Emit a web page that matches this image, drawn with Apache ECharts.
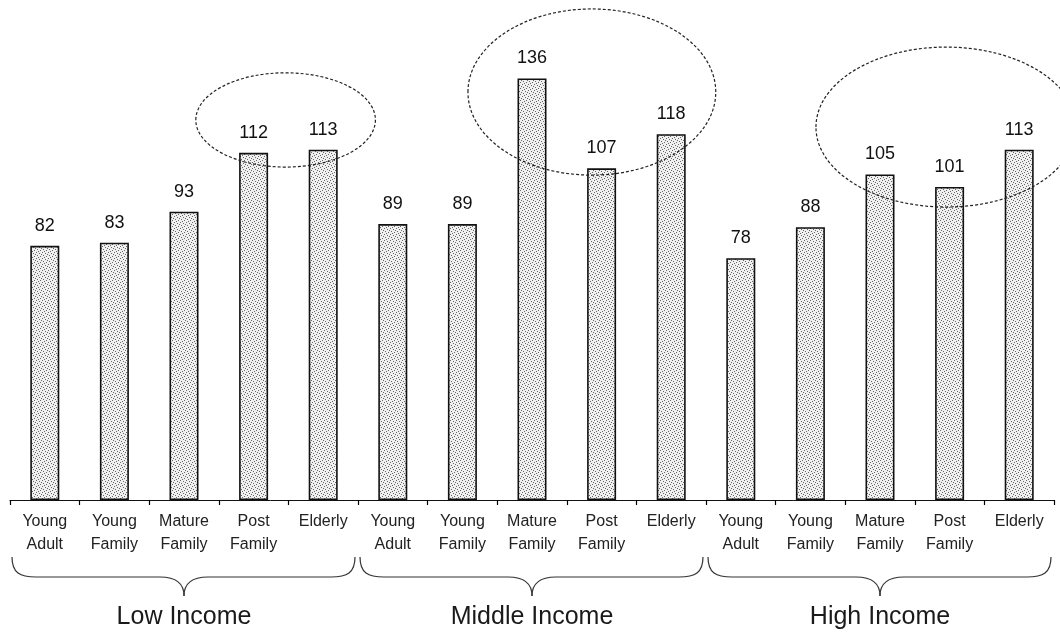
<!DOCTYPE html>
<html>
<head>
<meta charset="utf-8">
<style>
  html, body { margin: 0; padding: 0; background: #fff; }
  #chart { width: 1060px; height: 637px; }
</style>
<script src="https://cdn.jsdelivr.net/npm/echarts@6/dist/echarts.min.js"></script>
</head>
<body>
<div id="chart"></div>
<script>
// Life-stage segments, repeated for each income band
const categories = [
  'Young\nAdult', 'Young\nFamily', 'Mature\nFamily', 'Post\nFamily', 'Elderly',
  'Young\nAdult', 'Young\nFamily', 'Mature\nFamily', 'Post\nFamily', 'Elderly',
  'Young\nAdult', 'Young\nFamily', 'Mature\nFamily', 'Post\nFamily', 'Elderly'
];
const values = [82, 83, 93, 112, 113, 89, 89, 136, 107, 118, 78, 88, 105, 101, 113];

// Income bands: name, first and last category index
const groupNames = ['Low Income', 'Middle Income', 'High Income'];
const groupStart = [0, 5, 10];
const groupEnd = [4, 9, 14];

// Highlight ellipses in data space: centre (category index, value), radii (categories, value units)
const ellipseCenterIdx = [3.46, 7.86, 12.95];
const ellipseCenterVal = [122.6, 131.6, 120.3];
const ellipseRadiusCat = [1.29, 1.78, 1.87];
const ellipseRadiusVal = [15.2, 26.8, 25.8];

const FONT = '"Liberation Sans", Arial, sans-serif';

// Stippled fill used for the bars
function stipple() {
  const c = document.createElement('canvas');
  c.width = 6; c.height = 6;
  const g = c.getContext('2d');
  g.fillStyle = '#f0f0f0';
  g.fillRect(0, 0, 6, 6);
  g.fillStyle = '#666';
  [[0, 0], [3, 1], [1, 3], [4, 4], [2, 5], [5, 2]].forEach(p => g.fillRect(p[0], p[1], 1, 1));
  return c;
}

const chart = echarts.init(document.getElementById('chart'), null, { renderer: 'canvas' });

chart.setOption({
  animation: false,
  backgroundColor: '#fff',
  grid: { left: 10, right: 6, top: 35, bottom: 137, containLabel: false },
  xAxis: {
    type: 'category',
    data: categories,
    boundaryGap: true,
    axisLine: { lineStyle: { color: '#111', width: 1 } },
    axisTick: { show: true, length: 5, alignWithLabel: false, lineStyle: { color: '#000', width: 1.2 } },
    axisLabel: {
      interval: 0,
      margin: 10,
      color: '#222',
      fontFamily: FONT,
      fontSize: 16,
      lineHeight: 23,
      align: 'center',
      verticalAlign: 'top'
    }
  },
  yAxis: {
    type: 'value',
    min: 0,
    max: 150,
    show: false,
    splitLine: { show: false }
  },
  series: [{
    type: 'bar',
    data: values,
    barWidth: 29,
    itemStyle: {
      color: { image: stipple(), repeat: 'repeat' },
      borderColor: '#111',
      borderWidth: 1.6
    },
    label: {
      show: true,
      position: 'top',
      distance: 11,
      color: '#111',
      fontFamily: FONT,
      fontSize: 18
    }
  }]
});

// Annotations placed from the chart's own scales
function xAt(i) {
  const a = chart.convertToPixel({ xAxisIndex: 0 }, 0);
  const b = chart.convertToPixel({ xAxisIndex: 0 }, 1);
  return a + (b - a) * i;
}
function yAt(v) {
  return chart.convertToPixel({ yAxisIndex: 0 }, v);
}

const graphics = [];
const catW = xAt(1) - xAt(0);
const base = yAt(0);
const braceStyle = { fill: null, stroke: '#333', lineWidth: 1.2 };

ellipseCenterIdx.forEach((ci, k) => {
  graphics.push({
    type: 'ellipse',
    z: 100,
    silent: true,
    shape: {
      cx: xAt(ci),
      cy: yAt(ellipseCenterVal[k]),
      rx: ellipseRadiusCat[k] * catW,
      ry: yAt(0) - yAt(ellipseRadiusVal[k])
    },
    style: { fill: null, stroke: '#222', lineWidth: 1.2, lineDash: [3, 2] }
  });
});

function curve(x1, y1, cx1, cy1, cx2, cy2, x2, y2) {
  graphics.push({
    type: 'bezierCurve',
    silent: true,
    shape: { x1: x1, y1: y1, cpx1: cx1, cpy1: cy1, cpx2: cx2, cpy2: cy2, x2: x2, y2: y2 },
    style: braceStyle
  });
}
function seg(x1, y1, x2, y2) {
  graphics.push({
    type: 'line',
    silent: true,
    shape: { x1: x1, y1: y1, x2: x2, y2: y2 },
    style: braceStyle
  });
}

groupNames.forEach((name, k) => {
  const xa = xAt(groupStart[k] - 0.5) + 2;
  const xb = xAt(groupEnd[k] + 0.5) - 3;
  const xc = (xAt(groupStart[k]) + xAt(groupEnd[k])) / 2;
  const yT = base + 57, yM = base + 77, yP = base + 96;
  // curly brace under the band
  curve(xa, yT, xa, yM - 4, xa + 8, yM, xa + 24, yM);
  seg(xa + 24, yM, xc - 24, yM);
  curve(xc - 24, yM, xc - 8, yM, xc, yM + 6, xc, yP);
  curve(xc, yP, xc, yM + 6, xc + 8, yM, xc + 24, yM);
  seg(xc + 24, yM, xb - 24, yM);
  curve(xb - 24, yM, xb - 8, yM, xb, yM - 4, xb, yT);
  graphics.push({
    type: 'text',
    silent: true,
    x: xc,
    y: base + 117,
    style: {
      text: name,
      fill: '#1a1a1a',
      font: '25px ' + FONT,
      align: 'center',
      verticalAlign: 'middle'
    }
  });
});

chart.setOption({ graphic: graphics });
</script>
</body>
</html>
